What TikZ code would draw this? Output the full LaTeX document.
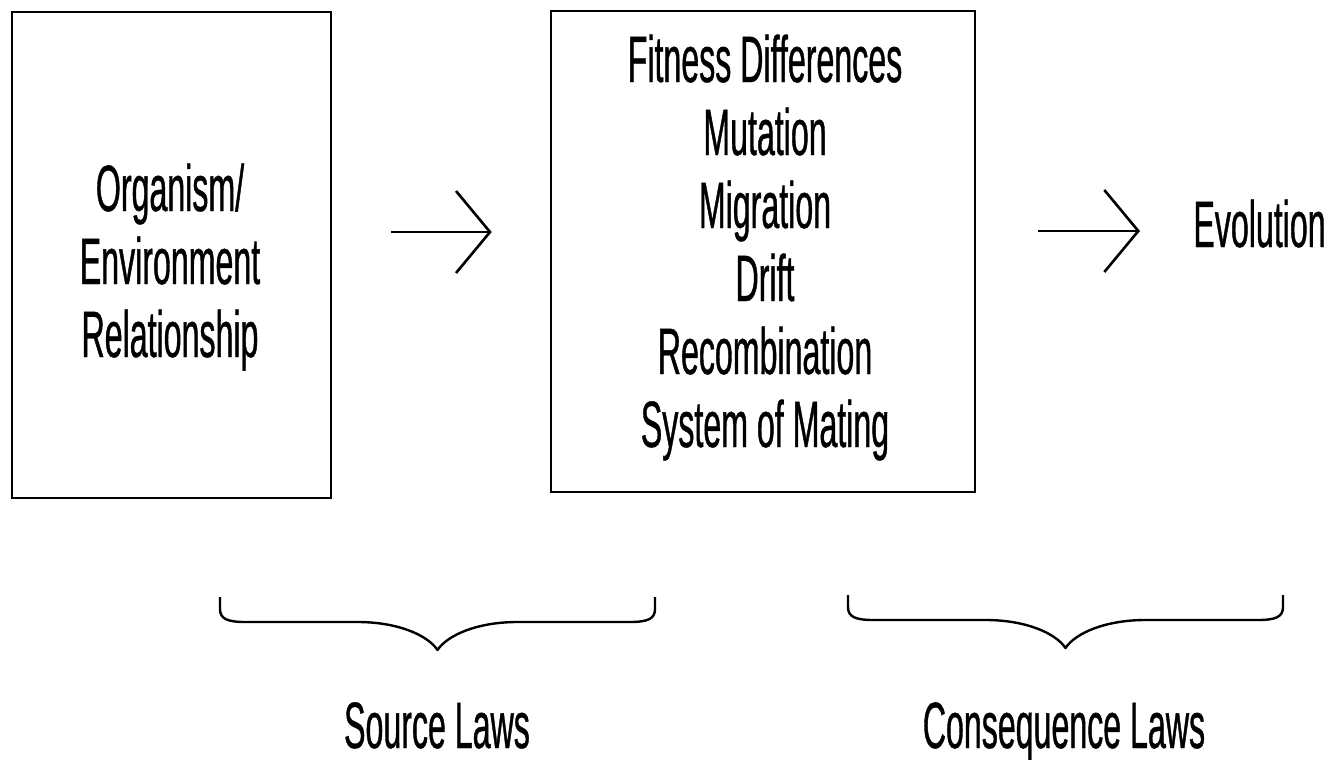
\documentclass[tikz,border=0pt]{standalone}
\usepackage{fontspec}
\newfontfamily\condfont[FakeStretch=0.49,FakeBold=0.6]{Liberation Sans}
\usetikzlibrary{arrows.meta}
\begin{document}
\begin{tikzpicture}[x=0.5pt,y=-0.5pt,
  box/.style={draw,line width=1.3pt,inner sep=0pt},
  lbl/.style={font=\condfont\fontsize{32.8}{36.5}\selectfont,inner sep=0pt,align=center},
  flow/.style={line width=1.3pt,-{Straight Barb[length=17pt,width=41pt,line width=1.3pt]}},
  lawbrace/.pic={
    \draw[line width=1.2pt,line join=round]
      (-217.5,0) -- (-217.5,12) .. controls (-217.5,22) and (-210,25) .. (-192,25)
      -- (-80,25) .. controls (-40,25) and (-10,38) .. (0,53)
      .. controls (10,38) and (40,25) .. (80,25)
      -- (192,25) .. controls (210,25) and (217.5,22) .. (217.5,12) -- (217.5,0);
  }]
\useasboundingbox (0,0) rectangle (1328,760);

% the two boxes
\node[box,minimum width=159.5pt,minimum height=243pt] (b1) at (171.5,255) {};
\node[box,minimum width=212pt,minimum height=240.5pt] (b2) at (763,251.5) {};

% their contents (anchored at the baseline of the last line)
\node[lbl,anchor=base] (t1) at (170,357) {Organism/\\Environment\\Relationship};
\node[lbl,anchor=base] (t2) at (765,447)
  {Fitness Differences\\Mutation\\Migration\\Drift\\Recombination\\System of Mating};
\node[lbl,anchor=base west] (evo) at (1193,247) {Evolution};

% arrows between the stages
\draw[flow,shorten <=29.5pt,shorten >=29pt] (b1.east |- 0,232) -- (b2.west |- 0,232);
\draw[flow,shorten <=31pt,shorten >=26.5pt] (b2.east |- 0,231) -- (evo.west |- 0,231);

% braces and their captions
\pic (srcbrace) at (437.5,597) {lawbrace};
\pic (conbrace) at (1065.5,595) {lawbrace};
\node[lbl,anchor=base] (src) at (437,748) {Source Laws};
\node[lbl,anchor=base] (cons) at (1064,748) {Consequence Laws};
\end{tikzpicture}
\end{document}
